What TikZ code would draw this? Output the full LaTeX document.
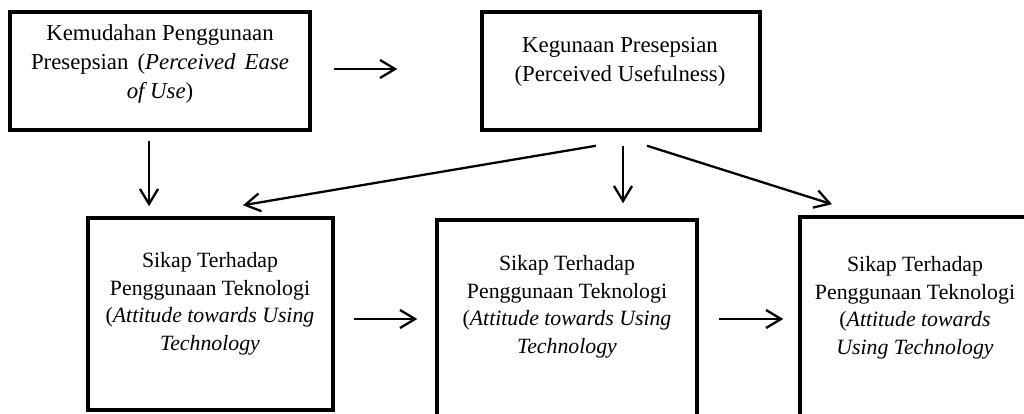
\documentclass[tikz,border=0pt]{standalone}
\usepackage{fontspec}
\setmainfont{Liberation Serif}
\usetikzlibrary{arrows.meta,calc}
\begin{document}
\begin{tikzpicture}[x=1pt,y=-1pt,
  box/.style={draw=black,line width=3.5pt,rectangle,inner sep=0pt},
  lbl/.style={align=center,anchor=base,inner sep=0pt,font=\fontsize{21.8}{27.5}\selectfont},
  toplbl/.style={lbl,font=\fontsize{22.8}{29}\selectfont},
  arr/.style={line width=2.3pt,-{Straight Barb[length=15pt,width=18pt,line width=2.3pt]}}]
\clip (0,0) rectangle (1024,414);
\fill[white] (0,0) rectangle (1024,414);
% boxes
\node[box,minimum width=300pt,minimum height=118pt] (A) at (160,71) {};
\node[box,minimum width=278pt,minimum height=118pt] (B) at (621,71) {};
\node[box,minimum width=245pt,minimum height=192pt] (C) at (210.5,314) {};
\node[box,minimum width=260pt,minimum height=220pt] (D) at (567,330) {};
\node[box,minimum width=230pt,minimum height=223pt] (E) at (915,328.5) {};
% texts (anchor base = last line baseline)
\node[toplbl] (tA) at (160,99) {Kemudahan Penggunaan\\\makebox[258pt][s]{Presepsian (\textit{Perceived} \textit{Ease}}\\\textit{of Use})};
\node[toplbl] (tB) at (620,82) {Kegunaan Presepsian\\(Perceived Usefulness)};
\node[lbl] (tC) at (210,350) {Sikap Terhadap\\Penggunaan Teknologi\\(\textit{Attitude towards Using}\\\textit{Technology}};
\node[lbl] (tD) at (567,353) {Sikap Terhadap\\Penggunaan Teknologi\\(\textit{Attitude towards Using}\\\textit{Technology}};
\node[lbl] (tE) at (915,354) {Sikap Terhadap\\Penggunaan Teknologi\\(\textit{Attitude towards}\\\textit{Using Technology}};
% connectors
\draw[arr] ($(A.east)+(22,-2)$) -- ($(B.west)+(-83,-2)$);
\draw[arr] ($(A.south)+(-11,9)$) -- ($(C.north)+(-61.5,-10)$);
\draw[arr] ($(B.south)+(-25,14)$) -- ($(C.north)+(32.5,-11)$);
\draw[arr] ($(B.south)+(2,14)$) -- ($(D.north)+(56,-15)$);
\draw[arr] ($(B.south)+(26,14)$) -- ($(E.north)+(-83,-11)$);
\draw[arr] ($(C.east)+(19,5)$) -- ($(D.west)+(-18,-11)$);
\draw[arr] ($(D.east)+(20,-11)$) -- ($(E.west)+(-15,-9.5)$);
\end{tikzpicture}
\end{document}
